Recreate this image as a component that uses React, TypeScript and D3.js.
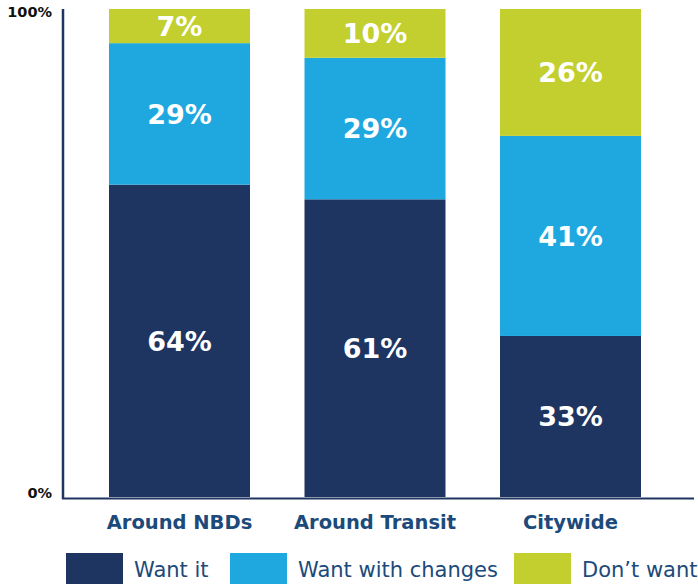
import React from "react";
import * as d3 from "d3";

const categories = ["Around NBDs", "Around Transit", "Citywide"];
const seriesNames = ["Want it", "Want with changes", "Don\u2019t want"];
const wantIt = [64, 61, 33];
const wantWithChanges = [29, 29, 41];
const dontWant = [7, 10, 26];
const yTickLabels = ["0%", "100%"];
const colors = ["#1e3461", "#1fa8df", "#c2cf2f"];

export default function App() {
  const W = 698, H = 584;
  const x = d3.scaleBand().domain(categories).range([109, 641]).paddingInner(0.2788).paddingOuter(0);
  const y = d3.scaleLinear().domain([0, 100]).range([497, 9]);
  const rows = categories.map((c, i) => ({ cat: c, a: wantIt[i], b: wantWithChanges[i], c: dontWant[i] }));
  const stack = d3.stack<any>().keys(["a", "b", "c"])(rows);
  const font = "'DejaVu Sans', Verdana, sans-serif";
  const legendX = [66, 230, 514];
  return (
    <svg width={W} height={H} style={{ position: "absolute", left: 0, top: 0 }}>
      <rect width={W} height={H} fill="#fff" />
      {stack.map((layer, li) =>
        layer.map((d, i) => {
          const x0 = x(categories[i])!;
          const y0 = y(d[1]);
          const y1 = y(d[0]);
          return (
            <g key={li + "-" + i}>
              <rect x={x0} y={y0} width={x.bandwidth()} height={y1 - y0} fill={colors[li]} />
              <text x={x0 + x.bandwidth() / 2} y={(y0 + y1) / 2} dy="0.36em" textAnchor="middle"
                fill="#fff" fontFamily={font} fontWeight={700} fontSize={27}>
                {d[1] - d[0]}%
              </text>
            </g>
          );
        })
      )}
      <line x1={63} x2={63} y1={9} y2={499} stroke="#1e3461" strokeWidth={2.5} />
      <line x1={62} x2={694} y1={498.5} y2={498.5} stroke="#1e3461" strokeWidth={2} />
      {[0, 100].map((v, i) => (
        <text key={v} x={52} y={y(v)} dy={i === 0 ? "0.1em" : "0.55em"} textAnchor="end" fontFamily={font}
          fontWeight={700} fontSize={14.5} fill="#111">{yTickLabels[i]}</text>
      ))}
      {categories.map((c) => (
        <text key={c} x={x(c)! + x.bandwidth() / 2} y={529} textAnchor="middle" fontFamily={font}
          fontWeight={700} fontSize={19.5} fill="#1c4a7a">{c}</text>
      ))}
      {seriesNames.map((s, i) => (
        <g key={s}>
          <rect x={legendX[i]} y={553} width={57} height={31} fill={colors[i]} />
          <text x={legendX[i] + 68} y={577} fontFamily={font} fontSize={21} fill="#1c4a7a">{s}</text>
        </g>
      ))}
    </svg>
  );
}
